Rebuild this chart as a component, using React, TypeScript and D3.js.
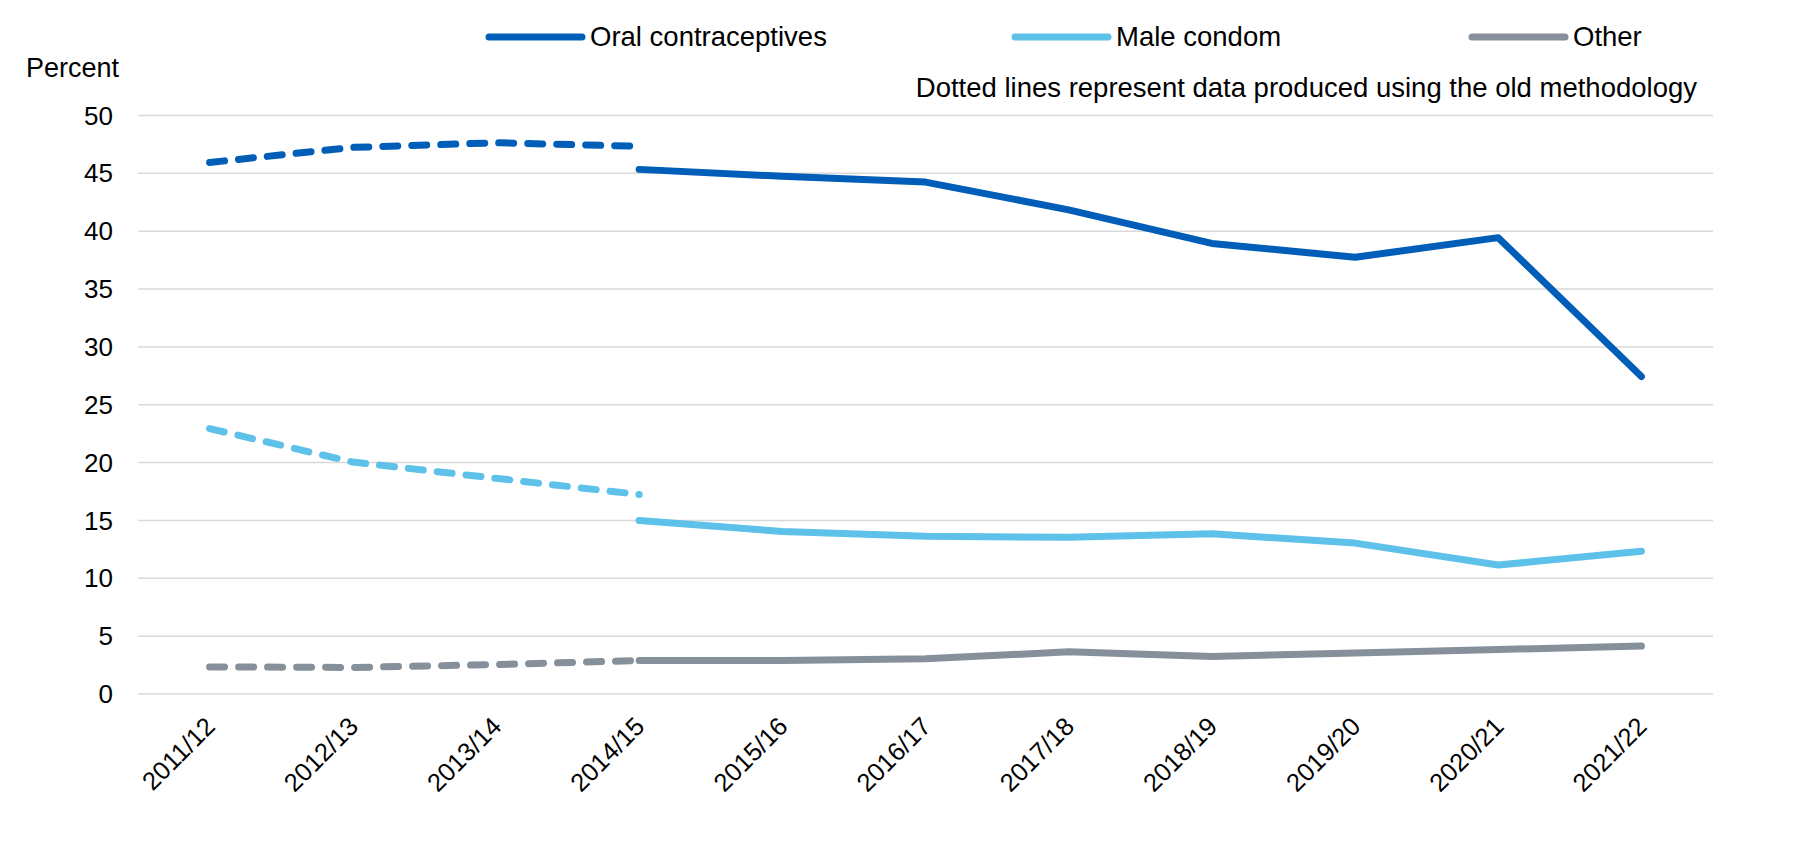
import React, { useEffect, useRef } from "react";
import * as d3 from "d3";

const years = ["2011/12", "2012/13", "2013/14", "2014/15", "2015/16", "2016/17", "2017/18", "2018/19", "2019/20", "2020/21", "2021/22"];
const oldYears = ["2011/12", "2012/13", "2013/14", "2014/15"];
const newYears = ["2014/15", "2015/16", "2016/17", "2017/18", "2018/19", "2019/20", "2020/21", "2021/22"];

// old methodology (dotted)
const oralOld = [45.9, 47.2, 47.6, 47.3];
const condomOld = [22.9, 20.0, 18.6, 17.2];
const otherOld = [2.3, 2.25, 2.5, 2.85];

// new methodology (solid)
const oralNew = [45.3, 44.7, 44.2, 41.8, 38.9, 37.7, 39.4, 27.4];
const condomNew = [14.95, 14.0, 13.6, 13.5, 13.8, 13.0, 11.1, 12.3];
const otherNew = [2.85, 2.85, 3.0, 3.6, 3.2, 3.5, 3.8, 4.1];

const yTicks = [0, 5, 10, 15, 20, 25, 30, 35, 40, 45, 50];
const seriesNames = ["Oral contraceptives", "Male condom", "Other"];
const colors = ["#005EB8", "#5EC1EA", "#86909A"];

const FONT = "Liberation Sans, Arial, sans-serif";

function App() {
  const ref = useRef<SVGSVGElement>(null);
  const width = 1819;
  const height = 844;
  const left = 138;
  const right = 1713;

  useEffect(() => {
    const svg = d3.select(ref.current);
    svg.selectAll("*").remove();

    const x = d3.scalePoint().domain(years).range([left, right]).padding(0.5);
    const y = d3.scaleLinear().domain([0, 50]).range([693.5, 115]);

    // y axis + gridlines
    const yAxis = d3
      .axisLeft(y)
      .tickValues(yTicks)
      .tickSize(-(right - left))
      .tickPadding(25);
    const gy = svg.append("g").attr("transform", `translate(${left},0)`).call(yAxis);
    gy.select(".domain").remove();
    gy.selectAll(".tick line").attr("stroke", "#d9d9d9").attr("stroke-width", 1.5);
    gy.selectAll(".tick text")
      .attr("font-family", FONT)
      .attr("font-size", 26)
      .attr("fill", "#000")
      .attr("dy", "0.35em");

    // x labels, rotated
    svg
      .append("g")
      .selectAll("text")
      .data(years)
      .join("text")
      .attr("transform", (d) => `translate(${(x(d) as number) + 7},728) rotate(-45)`)
      .attr("text-anchor", "end")
      .attr("font-family", FONT)
      .attr("font-size", 25.5)
      .attr("fill", "#000")
      .text((d) => d);

    const line = d3
      .line<[string, number]>()
      .x((d) => x(d[0]) as number)
      .y((d) => y(d[1]));

    const oldSeries = [oralOld, condomOld, otherOld];
    const newSeries = [oralNew, condomNew, otherNew];

    oldSeries.forEach((vals, i) => {
      svg
        .append("path")
        .attr("d", line(oldYears.map((yr, j) => [yr, vals[j]] as [string, number])))
        .attr("fill", "none")
        .attr("stroke", colors[i])
        .attr("stroke-width", 7)
        .attr("stroke-linecap", "round")
        .attr("stroke-linejoin", "round")
        .attr("stroke-dasharray", "15 14");
    });

    newSeries.forEach((vals, i) => {
      svg
        .append("path")
        .attr("d", line(newYears.map((yr, j) => [yr, vals[j]] as [string, number])))
        .attr("fill", "none")
        .attr("stroke", colors[i])
        .attr("stroke-width", 7)
        .attr("stroke-linecap", "round")
        .attr("stroke-linejoin", "round");
    });

    // legend
    const legendX = [489, 1015, 1472];
    const lg = svg.append("g");
    seriesNames.forEach((name, i) => {
      lg.append("line")
        .attr("x1", legendX[i])
        .attr("x2", legendX[i] + 93)
        .attr("y1", 37)
        .attr("y2", 37)
        .attr("stroke", colors[i])
        .attr("stroke-width", 7)
        .attr("stroke-linecap", "round");
      lg.append("text")
        .attr("x", legendX[i] + 101)
        .attr("y", 46)
        .attr("font-family", FONT)
        .attr("font-size", 27.5)
        .attr("fill", "#000")
        .text(name);
    });

    svg
      .append("text")
      .attr("x", 26)
      .attr("y", 77)
      .attr("font-family", FONT)
      .attr("font-size", 27)
      .attr("fill", "#000")
      .text("Percent");

    svg
      .append("text")
      .attr("x", 1697)
      .attr("y", 97)
      .attr("text-anchor", "end")
      .attr("font-family", FONT)
      .attr("font-size", 27.5)
      .attr("fill", "#000")
      .text("Dotted lines represent data produced using the old methodology");
  }, []);

  return (
    <div style={{ position: "fixed", top: 0, left: 0, background: "#fff" }}>
      <svg ref={ref} width={width} height={height} style={{ display: "block" }}></svg>
    </div>
  );
}

export default App;
